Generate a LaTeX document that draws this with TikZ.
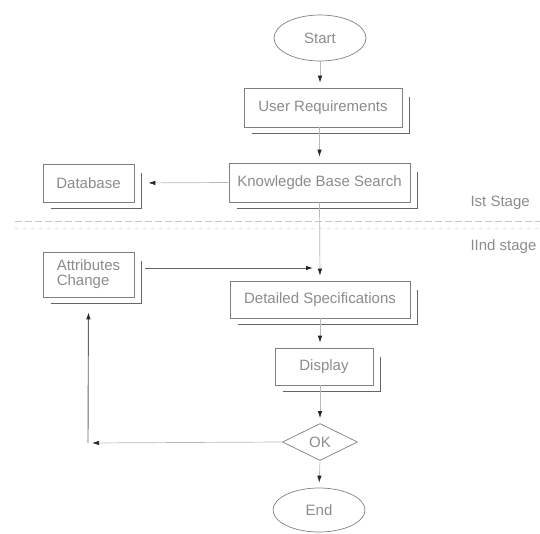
\documentclass[tikz,border=0pt]{standalone}
\usepackage{fontspec}
\setmainfont{Liberation Sans}
\usetikzlibrary{shapes.geometric,arrows.meta,calc}
\begin{document}
\begin{tikzpicture}[x=1pt,y=-1pt,
  every node/.style={font=\fontsize{15}{16}\selectfont, text=black!45},
  boxnode/.style={draw=black!50, line width=0.7pt, fill=white, rectangle, inner sep=0pt},
  ovalnode/.style={draw=black!50, line width=0.7pt, ellipse, inner sep=0pt, minimum width=92pt},
  decnode/.style={draw=black!50, line width=0.7pt, diamond, inner sep=0pt, aspect=2, minimum width=75pt, minimum height=37pt},
  shadowline/.style={draw=black!60, line width=1.3pt},
  tip/.style={-{Latex[length=7pt,width=4.5pt,color=black!85]}},
  conn/.style={tip, draw=black!28, line width=0.7pt},
  conndark/.style={tip, draw=black!60, line width=0.9pt},
  stagesep/.style={draw=black!22, line width=0.8pt, dash pattern=on 7pt off 3pt},
  stagesepfaint/.style={draw=black!12, line width=0.6pt, dash pattern=on 3pt off 5pt},
  stagelabel/.style={anchor=west}
]
\useasboundingbox (0,0) rectangle (540,534);

% nodes
\node[ovalnode, minimum height=46pt] (start) at (320,38) {Start};
\node[boxnode, minimum width=158pt, minimum height=39pt] (ur) at (323,107.5) {User Requirements};
\node[boxnode, minimum width=181pt, minimum height=39pt] (kbs) at (319.5,182.5) {Knowlegde Base Search};
\node[boxnode, minimum width=91pt, minimum height=38pt] (db) at (88.5,183) {Database};
\node[boxnode, minimum width=91pt, minimum height=45pt, align=left, font=\fontsize{15}{15}\selectfont] (attr) at (88.5,274.5) {Attributes\\Change};
\node[boxnode, minimum width=180pt, minimum height=37pt] (ds) at (320,299.5) {Detailed Specifications};
\node[boxnode, minimum width=98pt, minimum height=37pt] (disp) at (324,366.5) {Display};
\node[decnode] (ok) at (320,442) {OK};
\node[ovalnode, minimum height=44pt] (end) at (319,510) {End};

% shadows
\foreach \n in {ur,kbs,db,attr,ds,disp}
  \draw[shadowline] ([shift={(8pt,-6pt)}]\n.south west) -| ([shift={(7pt,-9pt)}]\n.north east);

% stage separator and labels
\coordinate (sepl) at (15,221);
\coordinate (sepr) at (540,221);
\draw[stagesep] (sepl) -- (sepr);
\coordinate (sepl2) at (15,228);
\coordinate (sepr2) at (540,228);
\draw[stagesepfaint] (sepl2) -- (sepr2);
\node[stagelabel] (st1) at (467,203) {Ist Stage};
\node[stagelabel] (st2) at (467,247) {IInd stage};

% connectors
\coordinate (j) at (320,268);
\coordinate (c) at (88,443);
\draw[conn, shorten >=5pt] (start.south) -- (start.south |- ur.north);
\draw[conn, shorten >=6pt] (kbs.north |- ur.south) -- (kbs.north);
\draw[conn, shorten >=14pt] (kbs.west) -- (db.east);
\draw[conn, shorten >=5pt] (kbs.south) -- (ds.north);
\draw[conndark, shorten <=11pt, shorten >=7pt] (attr.east |- j) -- (j);
\draw[conn, shorten >=5pt] (ds.south) -- (ds.south |- disp.north);
\draw[conn, shorten >=5pt] (ok.north |- disp.south) -- (ok.north);
\draw[conn, shorten >=5pt] (ok.south) -- (end.north);
\draw[conn, shorten >=4pt] (ok.west) -- (c);
\draw[conndark, shorten >=15pt] (c) -- (attr.south);
\end{tikzpicture}
\end{document}
